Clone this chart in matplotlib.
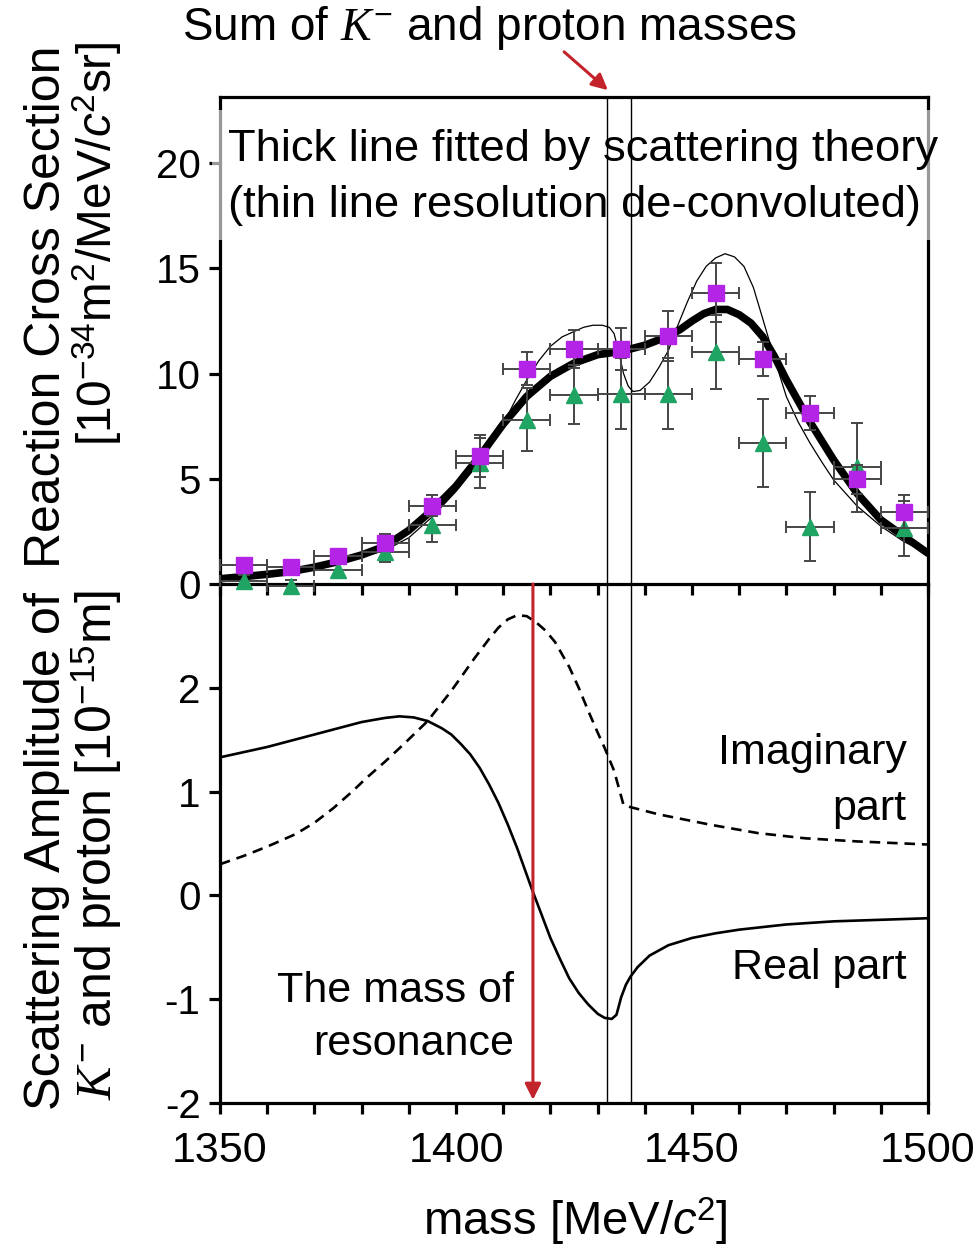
import matplotlib
matplotlib.use("Agg")
import matplotlib.pyplot as plt
from matplotlib.patches import Rectangle, FancyArrowPatch
from matplotlib.lines import TICKDOWN

plt.rcParams['font.family'] = ['Liberation Sans', 'DejaVu Sans']
plt.rcParams['mathtext.fontset'] = 'custom'
plt.rcParams['mathtext.rm'] = 'Liberation Sans'
plt.rcParams['mathtext.it'] = 'Liberation Serif:italic'
plt.rcParams['mathtext.sf'] = 'Liberation Sans:italic'

# ---------------- data ----------------
bin_mass = [1355, 1365, 1375, 1385, 1395, 1405, 1415, 1425, 1435, 1445, 1455, 1465, 1475, 1485, 1495]
bin_halfwidth = 5
purple_vals = [0.9, 0.82, 1.35, 1.97, 3.73, 6.1, 10.24, 11.18, 11.19, 11.78, 13.84, 10.7, 8.13, 4.98, 3.44]
purple_err = [0.3, 0.3, 0.3, 0.4, 0.5, 1.0, 0.8, 0.9, 1.0, 1.2, 1.4, 0.8, 0.8, 0.7, 0.8]
green_vals = [0.15, -0.1, 0.67, 1.54, 2.8, 5.75, 7.8, 9.0, 9.05, 9.05, 11.03, 6.7, 2.73, 5.54, 2.65]
green_err = [0.3, 0.3, 0.4, 0.5, 0.8, 1.2, 1.5, 1.4, 1.7, 1.7, 1.75, 2.1, 1.65, 2.1, 1.3]

thick_mass = [1350, 1355, 1360, 1365, 1370, 1375, 1380, 1385, 1390, 1395, 1400, 1405, 1410,
              1415, 1420, 1425, 1430, 1435, 1440, 1445, 1447.5, 1450, 1452.5, 1455, 1457.5,
              1460, 1462.5, 1465, 1467.5, 1470, 1475, 1480, 1485, 1490, 1495, 1500]
thick_vals = [0.25, 0.35, 0.46, 0.59, 0.8, 1.06, 1.38, 1.8, 2.55, 3.52, 4.65, 6.06, 7.6,
              8.92, 9.87, 10.5, 10.9, 11.06, 11.35, 11.78, 12.1, 12.5, 12.85, 13.05, 13.05,
              12.8, 12.4, 11.75, 10.8, 9.7, 7.7, 5.9, 4.3, 3.05, 2.25, 1.46]

thin_mass = [1350, 1355, 1365, 1375, 1385, 1390, 1395, 1400, 1405, 1410, 1412.5, 1415, 1417.5,
             1420, 1422.5, 1425, 1427, 1429, 1431, 1432.5, 1433.5, 1434.5, 1435.5, 1436.5,
             1437.5, 1439, 1441, 1443, 1445, 1447, 1449, 1451, 1453, 1455, 1457, 1459, 1461,
             1463, 1465, 1467.5, 1470, 1472.5, 1475, 1477.5, 1480, 1485, 1490, 1495, 1500]
thin_vals = [0.22, 0.32, 0.55, 0.95, 1.6, 2.2, 3.2, 4.4, 5.8, 7.6, 8.7, 9.7, 10.6,
             11.3, 11.75, 12.0, 12.2, 12.3, 12.3, 12.2, 11.9, 11.0, 10.0, 9.4,
             9.15, 9.2, 9.6, 10.3, 11.1, 12.3, 13.4, 14.4, 15.1, 15.5, 15.7, 15.55, 15.1,
             14.1, 12.6, 10.7, 8.9, 7.7, 6.7, 5.8, 4.95, 3.7, 2.75, 2.0, 1.46]

real_mass = [1350, 1360, 1370, 1380, 1385, 1388, 1391, 1394, 1397, 1399, 1401, 1403, 1405,
             1407, 1409, 1411, 1413, 1416, 1418, 1420, 1422, 1424, 1426, 1428, 1430, 1431.5,
             1433, 1434, 1435, 1436, 1437, 1438.5, 1441, 1445, 1450, 1455, 1460, 1470, 1480,
             1490, 1500]
real_vals = [1.33, 1.43, 1.55, 1.67, 1.71, 1.725, 1.715, 1.68, 1.61, 1.55, 1.46, 1.36, 1.23,
             1.07, 0.89, 0.68, 0.45, 0.07, -0.17, -0.41, -0.61, -0.80, -0.94, -1.05, -1.14,
             -1.18, -1.19, -1.15, -0.98, -0.86, -0.78, -0.69, -0.58, -0.48, -0.41, -0.365,
             -0.33, -0.28, -0.25, -0.235, -0.22]

imag_mass = [1350, 1355, 1360, 1366, 1370, 1374, 1378, 1381, 1385, 1389, 1394, 1399, 1404,
             1407, 1409, 1411, 1413, 1415, 1417, 1419, 1421, 1424, 1426, 1428, 1430, 1431.5,
             1433.5, 1435.5, 1437, 1443, 1454, 1464, 1474, 1485, 1500]
imag_vals = [0.30, 0.38, 0.47, 0.59, 0.70, 0.84, 1.0, 1.13, 1.29, 1.46, 1.68, 1.97, 2.29,
             2.47, 2.58, 2.66, 2.70, 2.69, 2.63, 2.55, 2.44, 2.20, 2.0, 1.78, 1.57, 1.42,
             1.20, 0.87, 0.85, 0.78, 0.68, 0.60, 0.55, 0.52, 0.49]

threshold_masses = [1432, 1437]
resonance_mass = 1416.3

x_ticks_major = [1350, 1400, 1450, 1500]
x_ticks_minor = list(range(1350, 1501, 10))
top_yticks = [0, 5, 10, 15, 20]
bot_yticks = [-2, -1, 0, 1, 2]
bot_yticklabels = ['-2', '-1', '0', '1', '2']

# ---------------- figure ----------------
W, H = 980, 1255
fig = plt.figure(figsize=(W / 100, H / 100), dpi=100)


def fx(px):
    return px / W


def fy(py):
    return 1 - py / H


left, right = fx(220), fx(928)
ax2 = fig.add_axes([left, fy(1103), right - left, fy(584) - fy(1103)])
ax1 = fig.add_axes([left, fy(584), right - left, fy(97) - fy(584)])
ax1.set_zorder(3)
ax1.patch.set_alpha(0)

spine_lw = 2.3
purple = '#B324E6'
green = '#1FA463'
err_col = '#454545'
red = '#C3242B'

# ---- top panel ----
ax1.set_xlim(1350, 1500)
ax1.set_ylim(0, 23.15)
ax1.plot(thin_mass, thin_vals, color='black', lw=0.9, zorder=3)
ax1.plot(thick_mass, thick_vals, color='black', lw=5.5, zorder=3.1,
         solid_capstyle='round', solid_joinstyle='round')
ax1.errorbar(bin_mass, green_vals, xerr=bin_halfwidth, yerr=green_err, fmt='^',
             color=green, ms=12, mec=green, ecolor=err_col, elinewidth=1.4, capsize=4.5,
             capthick=1.4, zorder=4, clip_on=False)
ax1.errorbar(bin_mass, purple_vals, xerr=bin_halfwidth, yerr=purple_err, fmt='s',
             color=purple, ms=11, mec=purple, ecolor=err_col, elinewidth=1.4, capsize=4.5,
             capthick=1.4, zorder=4.1, clip_on=False)
for m in threshold_masses:
    ax1.axvline(m, color='black', lw=1.0, zorder=3.5)
ax1.set_yticks(top_yticks)
ax1.set_xticks([])
ax1.tick_params(axis='y', direction='out', length=8, width=spine_lw, labelsize=29, pad=6)
for s in ax1.spines.values():
    s.set_linewidth(spine_lw)
ax1.spines['bottom'].set_visible(False)

# translucent box behind the annotation text
rect = Rectangle((fx(212), fy(240)), fx(950) - fx(212), fy(110) - fy(240),
                 transform=fig.transFigure, facecolor='white', edgecolor='none',
                 alpha=0.6, zorder=2.7, clip_on=False)
ax1.add_artist(rect)
fig.text(fx(228), fy(150), "Thick line fitted by scattering theory", fontsize=32.7,
         ha='left', va='center', zorder=5)
fig.text(fx(228), fy(205), "(thin line resolution de-convoluted)", fontsize=32.7,
         ha='left', va='center', zorder=5)

# ---- bottom panel ----
ax2.set_xlim(1350, 1500)
ax2.set_ylim(-2, 3)
ax2.plot(real_mass, real_vals, color='black', lw=1.9, solid_joinstyle='round')
ax2.plot(imag_mass, imag_vals, color='black', lw=1.9, dashes=(4, 2.6))
for m in threshold_masses:
    ax2.axvline(m, color='black', lw=1.0)
ax2.annotate('', xy=(resonance_mass, -1.97), xytext=(resonance_mass, 3.0),
             arrowprops=dict(arrowstyle='-|>', color=red, lw=2.2, mutation_scale=24,
                             shrinkA=0, shrinkB=0), zorder=5, annotation_clip=False)
ax2.set_yticks(bot_yticks)
ax2.set_yticklabels(bot_yticklabels)
ax2.set_xticks(x_ticks_major)
ax2.set_xticks(x_ticks_minor, minor=True)
ax2.tick_params(axis='y', direction='out', length=8, width=spine_lw, labelsize=29, pad=6)
ax2.tick_params(axis='x', which='both', direction='out', length=8, width=spine_lw,
                labelsize=31, pad=12, top=True, labeltop=False)
for s in ax2.spines.values():
    s.set_linewidth(spine_lw)
# ticks on the boundary between panels point downward
for t in ax2.xaxis.get_major_ticks() + ax2.xaxis.get_minor_ticks():
    t.tick2line.set_marker(TICKDOWN)

ax2.text(1495.5, 1.37, "Imaginary", fontsize=31, ha='right', va='center')
ax2.text(1495.5, 0.83, "part", fontsize=31, ha='right', va='center')
ax2.text(1495.5, -0.70, "Real part", fontsize=31, ha='right', va='center')
ax2.text(1412.3, -0.92, "The mass of", fontsize=31, ha='right', va='center')
ax2.text(1412.3, -1.43, "resonance", fontsize=31, ha='right', va='center')

# ---- labels ----
fig.text(fx(489), fy(28), r"Sum of $K^{-}$ and proton masses", fontsize=33,
         ha='center', va='center')
fig.add_artist(FancyArrowPatch(
    (fx(562), fy(50)), (fx(610), fy(92)), transform=fig.transFigure,
    arrowstyle='-|>', mutation_scale=24, color=red, lw=2.2))

fig.text(fx(47), fy(45), "Reaction Cross Section", rotation=90, fontsize=36,
         ha='center', va='top')
fig.text(fx(97), fy(41), r"[10$^{-34}$m$^2$/MeV/$\mathsf{c}^2$sr]", rotation=90,
         fontsize=34.4, ha='center', va='top')
fig.text(fx(47), fy(592), "Scattering Amplitude of", rotation=90, fontsize=36.3,
         ha='center', va='top')
fig.text(fx(97), fy(590), r"$K^{-}$ and proton [10$^{-15}$m]", rotation=90,
         fontsize=36, ha='center', va='top')
fig.text(fx(575), fy(1222), r"mass [MeV/$\mathsf{c}^2$]", fontsize=34,
         ha='center', va='center')

fig.savefig("out.png", dpi=100, facecolor='white')
